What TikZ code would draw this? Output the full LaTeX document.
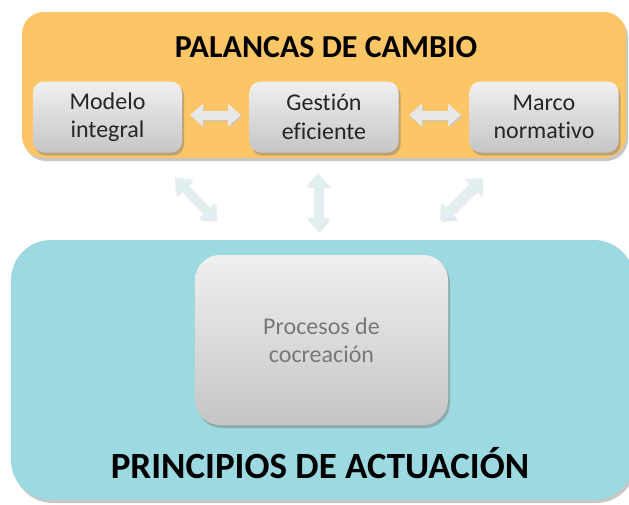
\documentclass[tikz,border=0pt]{standalone}
\usepackage{fontspec}
\setmainfont[Ligatures=NoCommon]{Carlito}
\usetikzlibrary{shadows,arrows.meta,calc}
\definecolor{orangebg}{RGB}{252,197,102}
\definecolor{tealbg}{RGB}{157,217,225}
\definecolor{arrowfill}{RGB}{226,239,241}
\definecolor{harrowfill}{RGB}{232,232,232}
\definecolor{txtgray}{RGB}{120,120,120}
\definecolor{txtdark}{RGB}{38,38,38}
\tikzset{
  panel/.style={rounded corners=22pt, drop shadow={shadow xshift=2pt,shadow yshift=-3pt,opacity=0.45}},
  graybox/.style={draw=none, rounded corners=11pt, top color=gray!12, bottom color=gray!45,
    drop shadow={shadow xshift=2pt,shadow yshift=-3pt,opacity=0.5}, align=center, text=txtdark,
    minimum width=149pt, minimum height=71pt, font=\fontsize{24}{28.5}\selectfont, inner sep=0pt},
  blockarrow/.style={line width=9pt, draw=arrowfill,
    {Triangle[width=22pt,length=13pt]}-{Triangle[width=22pt,length=13pt]}},
  arrowshade/.style={line width=9pt, draw=gray!45, opacity=0.55,
    {Triangle[width=22pt,length=13pt]}-{Triangle[width=22pt,length=13pt]}},
}
\begin{document}
\begin{tikzpicture}[x=1pt,y=-1pt]
\useasboundingbox (0,0) rectangle (629,504);
% orange panel
\fill[orangebg, panel] (22,12) rectangle (626,158);
\node (title) at (326,47) {\fontsize{32}{38}\selectfont\bfseries PALANCAS DE CAMBIO};
% top boxes
\node[graybox] (modelo) at (107.5,117) {Modelo\\integral};
\node[graybox] (gestion) at (324,117) {Gestión\\eficiente};
\node[graybox] (marco) at (544,117) {Marco\\normativo};
% teal panel
\fill[tealbg, panel, rounded corners=40pt] (11,240) rectangle (634,500);
\node[graybox, rounded corners=25pt, minimum width=253pt, minimum height=170pt, text=txtgray] (procesos) at (321.5,340) {Procesos de\\cocreación};
\node (principios) at (320,463) {\fontsize{37}{42}\selectfont\bfseries PRINCIPIOS DE ACTUACIÓN};
% arrow end points
\coordinate (h1a) at (190,115); \coordinate (h1b) at (241,115);
\coordinate (h2a) at (409,115); \coordinate (h2b) at (461,115);
\coordinate (d1a) at (175,178); \coordinate (d1b) at (216,220);
\coordinate (va) at (318,173); \coordinate (vb) at (318,231);
\coordinate (d2a) at (482,178); \coordinate (d2b) at (440,220);
\foreach \a/\b in {h1a/h1b,h2a/h2b}{
  \draw[arrowshade] ($(\a)+(1.5,2)$) -- ($(\b)+(1.5,2)$);
  \draw[blockarrow, draw=harrowfill] (\a) -- (\b);
}
\foreach \a/\b in {d1a/d1b,va/vb,d2a/d2b}{
  \draw[arrowshade, opacity=0.35] ($(\a)+(1.5,2)$) -- ($(\b)+(1.5,2)$);
  \draw[blockarrow] (\a) -- (\b);
}
\end{tikzpicture}
\end{document}
